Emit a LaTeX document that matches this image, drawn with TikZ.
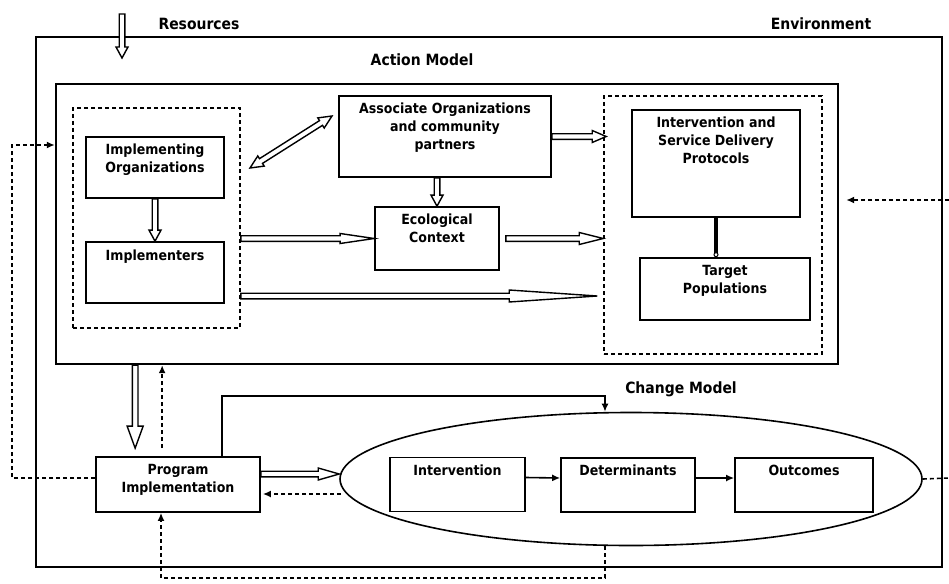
\documentclass[tikz,border=0pt]{standalone}
\usepackage{fontspec}
\setmainfont{DejaVu Sans}[FakeStretch=0.9]
\usetikzlibrary{calc}
\usetikzlibrary{arrows.meta}
\usetikzlibrary{shapes.geometric}
\newcommand{\boxfont}{\bfseries\fontsize{14}{18}\selectfont}
\newcommand{\headfont}{\bfseries\fontsize{15.5}{18}\selectfont}
\newcommand{\shaft}{2.8pt}
\tikzset{
    common/.style={draw, rectangle, line width=1.7pt, inner sep=0pt},
    box/.style 2 args={common, minimum width=#1, minimum height=#2},
    inlabel/.style={anchor=north, align=center, inner sep=0pt, yshift=-8pt, font=\boxfont},
    grp/.style={common, line width=1.6pt, dash pattern=on 4pt off 3pt},
    heading/.style={font=\headfont, inner sep=0pt},
    dashline/.style={line width=1.6pt, dash pattern=on 4pt off 3pt},
    tip/.style={-{Latex[length=8pt, width=7pt]}},
    fat/.style 2 args={line width=1.4pt, fill=white, to path={
        let \p1=(\tikztostart), \p2=(\tikztotarget),
            \n1={atan2(\y2-\y1,\x2-\x1)}, \n2={veclen(\x2-\x1,\y2-\y1)} in
        {[shift={(\p1)}, rotate=\n1]
            (0pt,\shaft) -- (\n2-#1,\shaft) -- (\n2-#1,#2) -- (\n2,0pt)
            -- (\n2-#1,-#2) -- (\n2-#1,-\shaft) -- (0pt,-\shaft) -- cycle}
    }},
    fatboth/.style 2 args={line width=1.4pt, fill=white, to path={
        let \p1=(\tikztostart), \p2=(\tikztotarget),
            \n1={atan2(\y2-\y1,\x2-\x1)}, \n2={veclen(\x2-\x1,\y2-\y1)} in
        {[shift={(\p1)}, rotate=\n1]
            (0pt,0pt) -- (#1,#2) -- (#1,\shaft) -- (\n2-#1,\shaft) -- (\n2-#1,#2) -- (\n2,0pt)
            -- (\n2-#1,-#2) -- (\n2-#1,-\shaft) -- (#1,-\shaft) -- (#1,-#2) -- cycle}
    }}
}
\begin{document}
\begin{tikzpicture}[x=1pt, y=-1pt]
    \useasboundingbox (0,0) rectangle (949,583);

    % frames
    \node[box={906}{530}, line width=2.2pt] (env) at (489,302) {};
    \node[box={782}{280}, line width=2.4pt] (act) at (447,224) {};
    \node[grp, minimum width=167, minimum height=220] (leftgrp) at (156.5,218) {};
    \node[grp, minimum width=218, minimum height=258] (rightgrp) at (713,225) {};
    \node[ellipse, draw, line width=1.6pt, minimum width=582, minimum height=133] (chg) at (631,479) {};

    % headings
    \node[heading] (reslbl) at (199,24) {Resources};
    \node[heading] (envlbl) at (821,24) {Environment};
    \node[heading] (actlbl) at (422,60) {Action Model};
    \node[heading] (chglbl) at (681,389) {Change Model};

    % action model boxes
    \node[box={138}{61}, label={[inlabel]north:Implementing\\Organizations}] (implorg) at (155,167.5) {};
    \node[box={138}{61}, label={[inlabel, yshift=-1pt]north:Implementers}] (impl) at (155,272.5) {};
    \node[box={212}{81}, label={[inlabel]north:Associate Organizations\\and community\\partners}] (assoc) at (445,136.5) {};
    \node[box={124}{63}, label={[inlabel]north:Ecological\\Context}] (eco) at (437,238.5) {};
    \node[box={168}{107}, label={[inlabel]north:Intervention and\\Service Delivery\\Protocols}] (proto) at (716,163.5) {};
    \node[box={170}{62}, label={[inlabel]north:Target\\Populations}] (target) at (725,289) {};

    % change model boxes
    \node[box={164}{55}, label={[inlabel]north:Program\\Implementation}] (prog) at (178,484.5) {};
    \node[box={135}{54}, label={[inlabel]north:Intervention}] (interv) at (457.5,484.5) {};
    \node[box={134}{54}, label={[inlabel]north:Determinants}] (deter) at (628,485) {};
    \node[box={138}{54}, label={[inlabel]north:Outcomes}] (outc) at (804,485) {};

    % end points
    \coordinate (resin) at (122,14);
    \coordinate (resout) at (122,58);
    \coordinate (dstart) at (250,168);
    \coordinate (dend) at (332,116);
    \coordinate (assocout) at (eco.north |- assoc.south);
    \coordinate (rgin1) at ($(assoc.east -| rightgrp.west)+(3,0)$);
    \coordinate (lgout1) at (leftgrp.east |- eco.west);
    \coordinate (ecoout) at ($(eco.east)+(6,0)$);
    \coordinate (rgin2) at (eco.east -| rightgrp.west);
    \coordinate (lgout2) at ($(leftgrp.east)+(0,78)$);
    \coordinate (rgin3) at ($(lgout2 -| rightgrp.west)+(-6,0)$);
    \coordinate (protoend) at (proto.south |- target.north);
    \coordinate (actout) at ($(prog.north west)+(40,0)$);
    \coordinate (progin) at ($(prog.north west)+(40,-8)$);
    \coordinate (progup) at ($(prog.north west)+(67,-8)$);
    \coordinate (progline) at ($(prog.north west)+(127,0)$);
    \coordinate (bend) at (605,396);
    \coordinate (progout) at ($(prog.east)+(0,-10.5)$);
    \coordinate (chgin) at (progout -| chg.west);
    \coordinate (chgback) at ($(chg.west)+(2,15)$);
    \coordinate (progback) at ($(prog.east)+(2,9.5)$);
    \coordinate (progw) at ($(prog.west)+(0,-6.5)$);
    \coordinate (loopc) at (12,145);
    \coordinate (envin) at (949,200);
    \coordinate (envout) at (949,478);
    \coordinate (chgs) at (bend |- chg.south);
    \coordinate (botc) at (161,578);

    % hollow arrows
    \draw[fat={11}{6pt}] (resin) to (resout);
    \draw[fat={11}{6pt}] (implorg.south) to (impl.north);
    \draw[fatboth={13}{6pt}] (dstart) to (dend);
    \draw[fat={11}{6pt}] (assocout) to (eco.north);
    \draw[fat={14}{6pt}] (assoc.east) to (rgin1);
    \draw[fat={34}{5pt}] (lgout1) to (eco.west);
    \draw[fat={24}{6pt}] (ecoout) to (rgin2);
    \draw[fat={88}{6pt}] (lgout2) to (rgin3);
    \draw[fat={22}{8pt}] (actout |- act.south) to (progin);
    \draw[fat={21}{6pt}] (progout) to (chgin);

    % other connectors
    \draw[line width=3.5pt, -{Circle[open, fill=white, length=5pt, line width=1pt]}] (proto.south) -- (protoend);
    \draw[dashline, tip] (envin) -- ([xshift=7pt]act.east |- envin);
    \draw[dashline, tip] (progw) -| (loopc) -- (loopc -| act.west);
    \draw[dashline, tip] (progup) -- (progup |- act.south);
    \draw[line width=1.6pt, tip] (progline) |- (bend) -- (bend |- chg.north);
    \draw[dashline, tip] (chgback) -- (progback);
    \draw[dashline] (chg.east) -- (envout);
    \draw[dashline, tip] (chgs) |- (botc) -- (botc |- prog.south);
    \draw[line width=1.6pt, tip] ([yshift=7pt]interv.east) -- ([yshift=7pt]deter.west);
    \draw[line width=1.6pt, tip] ([yshift=7pt]deter.east) -- ([yshift=7pt]outc.west);
\end{tikzpicture}
\end{document}
